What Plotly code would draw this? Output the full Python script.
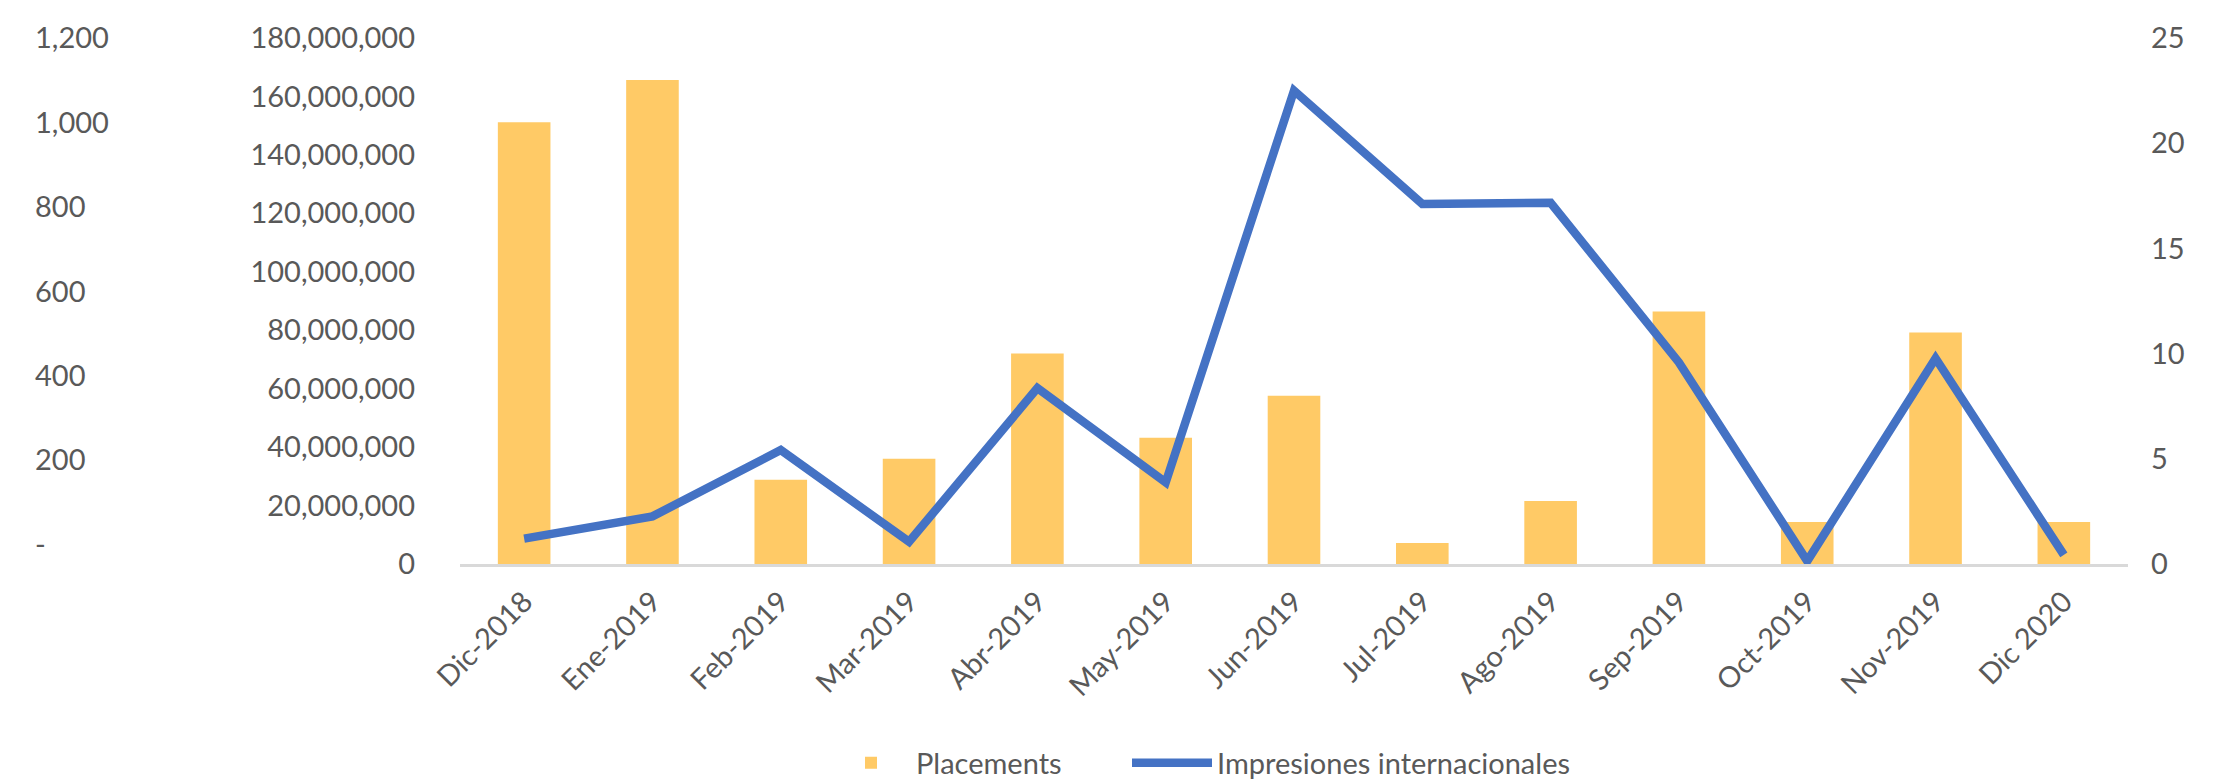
import plotly.graph_objects as go

categories = ["Dic-2018", "Ene-2019", "Feb-2019", "Mar-2019", "Abr-2019", "May-2019",
              "Jun-2019", "Jul-2019", "Ago-2019", "Sep-2019", "Oct-2019", "Nov-2019", "Dic 2020"]
placements = [21, 23, 4, 5, 10, 6, 8, 1, 3, 12, 2, 11, 2]
impresiones = [8.7e6, 16.3e6, 39.0e6, 7.6e6, 60.2e6, 27.9e6, 162.0e6, 123.2e6, 123.6e6,
               69.0e6, 1.0e6, 70.4e6, 3.1e6]

left_ticks = [0, 200, 400, 600, 800, 1000, 1200]
left_ticktext = ["-", "200", "400", "600", "800", "1,000", "1,200"]
mid_ticks = list(range(0, 180000001, 20000000))
right_ticks = [0, 5, 10, 15, 20, 25]

W, H = 2222, 784
FONT = "Lato"
TXT = "#595959"
FS = 29

x0, x1 = 452 / W, 2120 / W
y0, y1 = (H - 556) / H, (H - 30) / H

fig = go.Figure()
fig.add_trace(go.Bar(x=categories, y=placements, name="Placements",
                     marker=dict(color="#FFCA66", line=dict(width=0)),
                     yaxis="y", legend="legend"))
fig.add_trace(go.Scatter(x=categories, y=impresiones, name="Impresiones internacionales",
                         mode="lines", line=dict(color="#4472C4", width=8.5),
                         yaxis="y2", legend="legend2"))
fig.add_trace(go.Scatter(x=categories, y=[None] * len(categories), yaxis="y3",
                         showlegend=False, hoverinfo="skip", mode="lines"))

leg_common = dict(orientation="h", xanchor="left", yanchor="middle",
                  y=(H - 755) / H, font=dict(size=FS, color=TXT),
                  itemwidth=80, bgcolor="rgba(0,0,0,0)")

fig.update_layout(
    width=W, height=H,
    margin=dict(l=0, r=0, t=0, b=0, autoexpand=False),
    paper_bgcolor="white", plot_bgcolor="white",
    font=dict(family=FONT, size=FS, color=TXT),
    bargap=0.59,
    showlegend=True,
    legend=dict(x=818 / W, **leg_common),
    legend2=dict(x=1119 / W, **leg_common),
    xaxis=dict(domain=[x0, x1], showline=True, linecolor="#D9D9D9", linewidth=3,
               tickangle=-45, ticks="", showgrid=False, zeroline=False,
               tickfont=dict(size=FS, color=TXT), ticklabelstandoff=6),
    yaxis=dict(domain=[y0, y1], range=[0, 25], tickvals=right_ticks, side="right",
               anchor="x", showgrid=False, zeroline=False, showline=False, ticks="",
               ticklabelstandoff=22, tickfont=dict(size=FS, color=TXT)),
    yaxis2=dict(range=[0, 180000000], tickvals=mid_ticks, overlaying="y",
                tickformat=",d", showgrid=False, zeroline=False, showline=False,
                ticks="", side="left", anchor="x", ticklabelstandoff=44,
                tickfont=dict(size=FS, color=TXT)),
    yaxis3=dict(range=[-46, 1200.5], tickvals=left_ticks, ticktext=left_ticktext,
                overlaying="y", side="right", anchor="free", position=26 / W,
                showgrid=False, zeroline=False,
                showline=False, ticks="", tickfont=dict(size=FS, color=TXT)),
)

fig.write_html("out.html")
